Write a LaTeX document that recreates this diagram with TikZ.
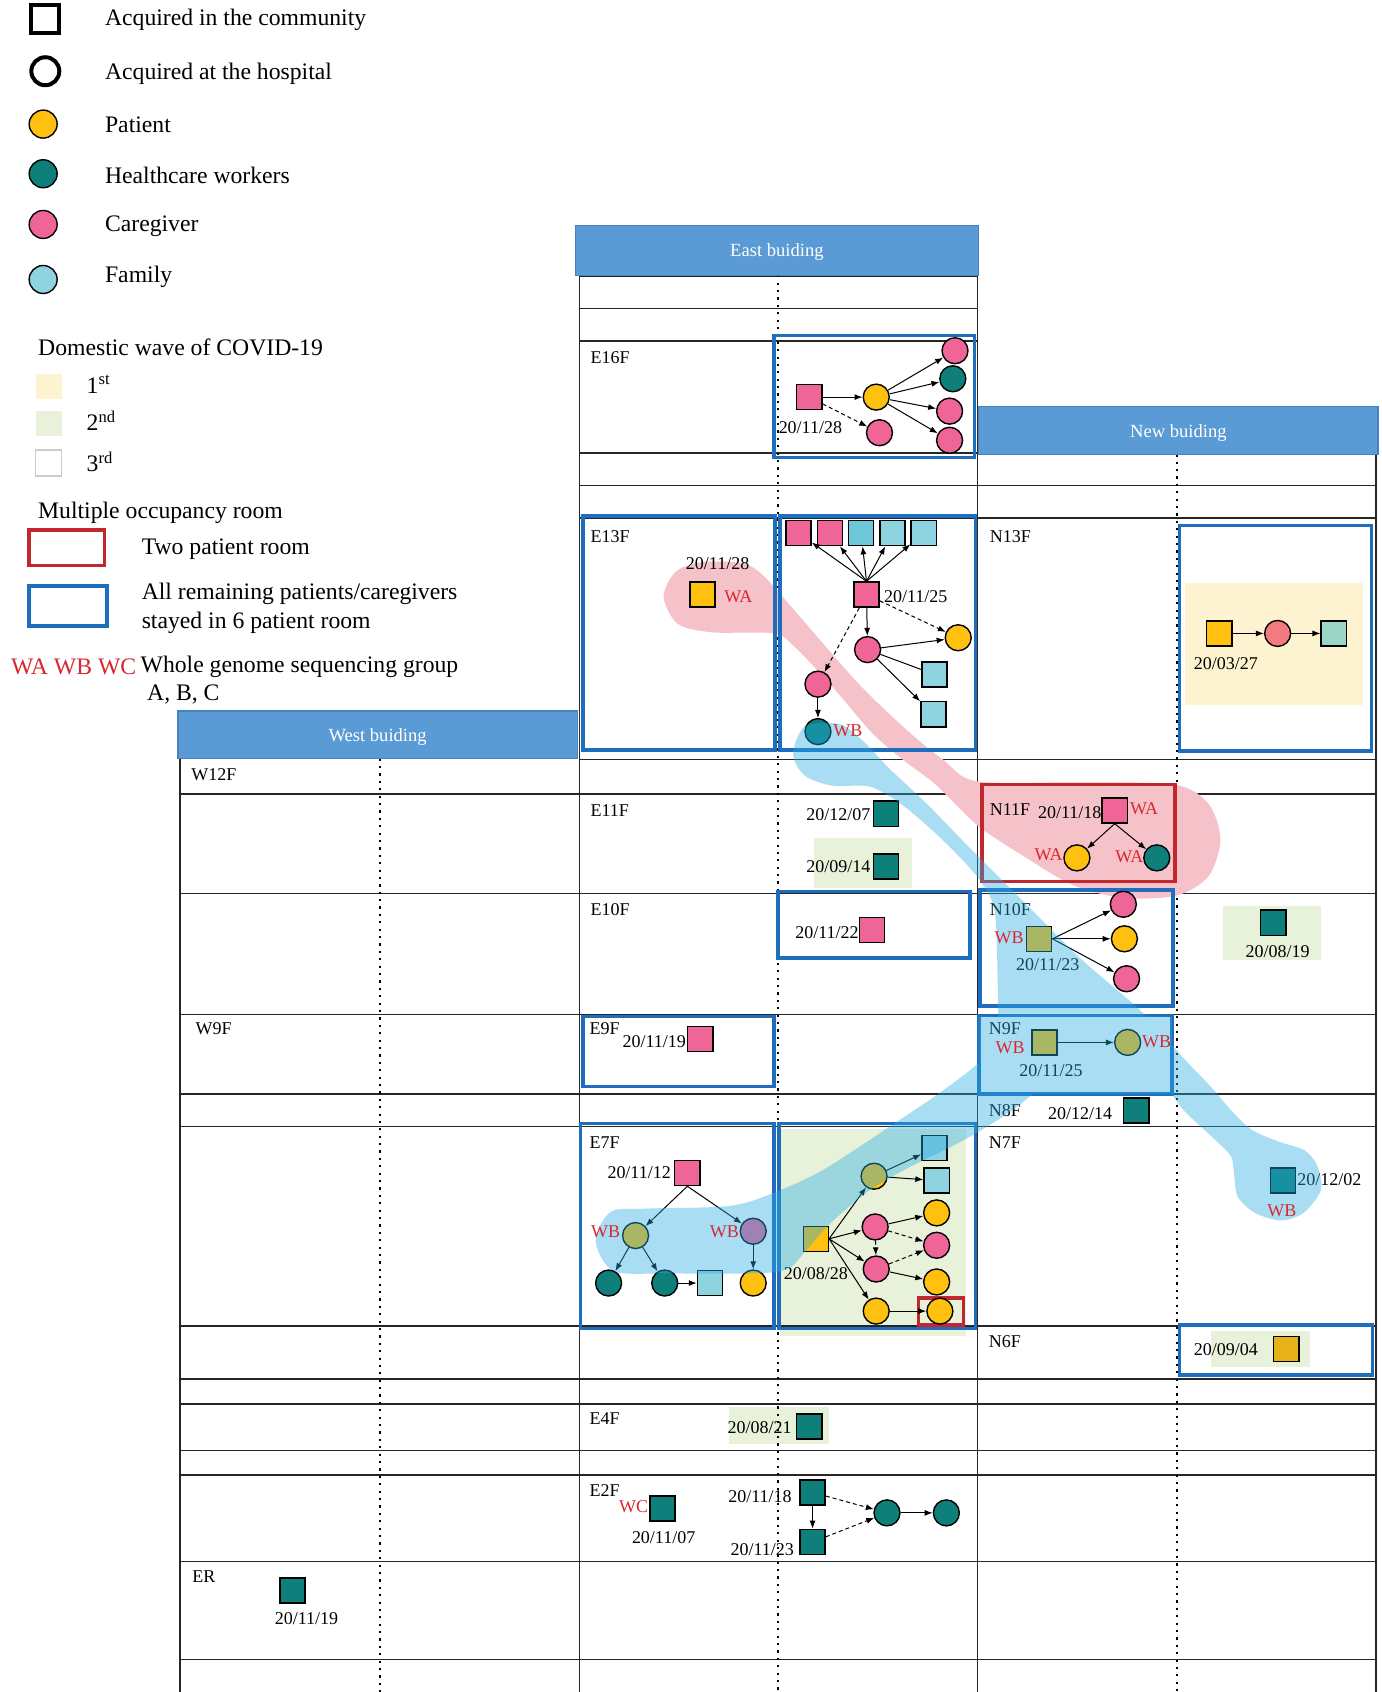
\documentclass[tikz,border=0pt]{standalone}
\usepackage{fontspec}
\setmainfont{Liberation Serif}
\usetikzlibrary{arrows.meta}
\definecolor{patY}{RGB}{255,192,16}
\definecolor{hcwT}{RGB}{14,127,122}
\definecolor{cgvP}{RGB}{240,101,152}
\definecolor{famB}{RGB}{141,211,224}
\definecolor{famD}{RGB}{110,200,218}
\definecolor{salm}{RGB}{242,123,127}
\definecolor{mint}{RGB}{154,213,197}
\definecolor{waveA}{RGB}{253,243,208}
\definecolor{waveB}{RGB}{232,242,218}
\definecolor{bandB}{RGB}{41,171,226}
\definecolor{bandP}{RGB}{246,194,202}
\definecolor{twoR}{RGB}{193,39,45}
\definecolor{roomB}{RGB}{31,110,190}
\definecolor{hdrB}{RGB}{91,155,213}
\definecolor{hdrE}{RGB}{70,130,190}
\definecolor{grpR}{RGB}{215,40,47}

\begin{document}
\begin{tikzpicture}[x=0.54pt, y=-0.54pt,
    sq/.style={rectangle, draw=black, line width=0.7pt, minimum size=12.6pt, inner sep=0pt},
    ci/.style={circle, draw=black, line width=0.7pt, minimum size=13pt, inner sep=0pt},
    pt/.style={fill=patY}, hw/.style={fill=hcwT}, cg/.style={fill=cgvP}, fm/.style={fill=famB},
    ar/.style={-{Latex[length=4pt,width=3pt]}, line width=0.5pt},
    dar/.style={ar, dash pattern=on 2pt off 1.5pt},
    tx/.style={inner sep=0pt, font=\fontsize{9}{10}\selectfont},
    rl/.style={tx, anchor=west},
    grp/.style={tx, text=grpR},
    lt/.style={inner sep=0pt, anchor=west, font=\fontsize{11.85}{13}\selectfont},
    hdr/.style={draw=hdrE, fill=hdrB, line width=0.6pt, text=white, inner sep=0pt, text depth=0pt,
        font=\fontsize{9.3}{11}\selectfont, minimum width=199.8pt, minimum height=23.8pt},
    room/.style={draw=roomB, line width=1.8pt},
    two/.style={draw=twoR, line width=1.8pt},
    grid/.style={draw=black!85, line width=0.75pt},
    dots/.style={line width=1.1pt, dash pattern=on 1.1pt off 2.6pt}]

    \fill[white] (0,0) rectangle (1280,1568);
    \useasboundingbox (0,0) rectangle (1280,1568);

    % Legend
    \node[sq, line width=2pt, minimum size=14pt] (lgA) at (42,18) {};
    \node[ci, line width=2pt, minimum size=14pt] (lgB) at (42,66) {};
    \node[ci, pt, minimum size=14pt] (lgC) at (40,115) {};
    \node[ci, hw, minimum size=14pt] (lgD) at (40,161) {};
    \node[ci, cg, minimum size=14pt] (lgE) at (40,208) {};
    \node[ci, fm, minimum size=14pt] (lgF) at (40,259) {};
    \node[lt] (ltA) at (97,18.5) {Acquired in the community};
    \node[lt] (ltB) at (97,68.5) {Acquired at the hospital};
    \node[lt] (ltC) at (97,115.5) {Patient};
    \node[lt] (ltD) at (97,162.5) {Healthcare workers};
    \node[lt] (ltE) at (97,209.5) {Caregiver};
    \node[lt] (ltF) at (97,256.5) {Family};
    \node[lt] (ltW) at (35,322) {Domestic wave of COVID-19};
    \fill[waveA] (33,347) rectangle (57,370);
    \fill[waveB] (33,381) rectangle (57,404);
    \draw[black!20, line width=0.8pt] (33,417) rectangle (57,441);
    \node[lt] (ltW1) at (80,356) {1\textsuperscript{st}};
    \node[lt] (ltW2) at (80,390) {2\textsuperscript{nd}};
    \node[lt] (ltW3) at (80,428) {3\textsuperscript{rd}};
    \node[lt] (ltM) at (35,475.5) {Multiple occupancy room};
    \draw[two] (27,491) rectangle (97,524);
    \draw[room] (27,543) rectangle (99,580);
    \node[lt] (ltR) at (131,508.5) {Two patient room};
    \node[lt] (ltS1) at (131,550.5) {All remaining patients/caregivers};
    \node[lt] (ltS2) at (131,577.5) {stayed in 6 patient room};
    \node[lt, text=grpR] (ltG) at (10,618) {WA WB WC};
    \node[lt] (ltG1) at (130,618) {Whole genome sequencing group};
    \node[lt] (ltG2) at (136,644) {A, B, C};

    % Wave backgrounds
    \fill[waveA] (1098,540) rectangle (1263,653);
    \fill[waveB] (754,777) rectangle (845,823);
    \fill[waveB] (1133,840) rectangle (1224,890);
    \fill[waveB] (723,1046) rectangle (895,1238);
    \fill[waveB] (1122,1233) rectangle (1214,1267);
    \fill[waveB] (676,1304) rectangle (768,1338);

    % Floors
    \draw[grid] (537,256) -- (906,256) (537,286) -- (906,286) (537,316) -- (906,316)
        (537,420) -- (906,420) (537,450) -- (1275,450) (537,480) -- (1275,480)
        (537,704) -- (1275,704);
    \draw[grid] (167,736) -- (1275,736) (167,828) -- (1275,828) (167,940) -- (1275,940)
        (167,1014) -- (1275,1014) (167,1044) -- (1275,1044) (167,1229) -- (1275,1229)
        (167,1278) -- (1275,1278) (167,1301) -- (1275,1301) (167,1344) -- (1275,1344)
        (167,1367) -- (1275,1367) (167,1447) -- (1275,1447) (167,1538) -- (1275,1538);
    \draw[grid] (167,703) -- (167,1568) (537,255) -- (537,1568)
        (906,255) -- (906,1568) (1275,421) -- (1275,1568);
    \draw[dots] (352,703) -- (352,1568) (721,255) -- (721,1568) (1091,421) -- (1091,1568);

    % Buildings
    \node[hdr, minimum width=201.96pt, minimum height=24.84pt] (east) at (720,232) {East buiding};
    \node[hdr] (new) at (1092,399) {New buiding};
    \node[hdr] (west) at (350,681) {West buiding};

    % Group A
    \fill[bandP] plot[smooth cycle, tension=.5] coordinates {(615,553) (626,530) (650,521)
        (688,522) (708,534) (740,570) (796,634) (842,678) (874,704) (905,724) (1000,725)
        (1088,727) (1120,745) (1131,778) (1120,812) (1090,830) (1040,832) (994,820)
        (948,793) (906,765) (867,727) (838,705) (808,679) (771,636) (737,600) (717,587)
        (660,586) (628,578)};

    % Rooms
    \draw[room] (717,311) rectangle (903,424);
    \draw[room] (540,478) rectangle (718,695);
    \draw[room] (723,478) rectangle (904,695);
    \draw[room] (1093,487) rectangle (1271,696);
    \draw[room] (721,826) rectangle (899,888);
    \draw[room] (908,825) rectangle (1087,932);
    \draw[room] (540,942) rectangle (717,1007);
    \draw[room] (907,941) rectangle (1086,1014);
    \draw[room] (538,1041) rectangle (717,1231);
    \draw[room] (722,1041) rectangle (904,1231);
    \draw[room] (1093,1228) rectangle (1272,1274);
    \draw[two] (910,727) rectangle (1089,817);
    \draw[two] (851,1203) rectangle (893,1228);

    % Floor labels
    \node[rl] (lE16) at (547,331) {E16F};
    \node[rl] (lE13) at (547,497) {E13F};
    \node[rl] (lE11) at (547,751) {E11F};
    \node[rl] (lE10) at (547,843) {E10F};
    \node[rl] (lE9) at (546,953) {E9F};
    \node[rl] (lE7) at (546,1059) {E7F};
    \node[rl] (lE4) at (546,1315) {E4F};
    \node[rl] (lE2) at (546,1381) {E2F};
    \node[rl] (lW12) at (177,718) {W12F};
    \node[rl] (lW9) at (181,953) {W9F};
    \node[rl] (lER) at (178,1461) {ER};
    \node[rl] (lN13) at (917,497) {N13F};
    \node[rl] (lN11) at (917,750) {N11F};
    \node[rl] (lN10) at (917,843) {N10F};
    \node[rl] (lN9) at (916,953) {N9F};
    \node[rl] (lN8) at (916,1029) {N8F};
    \node[rl] (lN7) at (916,1059) {N7F};
    \node[rl] (lN6) at (916,1243) {N6F};

    % E16F
    \node[sq, cg] (e16s) at (750,368) {};
    \node[ci, pt] (e16p) at (812,368) {};
    \node[ci, cg] (e16a) at (885,325) {};
    \node[ci, hw] (e16b) at (883,351) {};
    \node[ci, cg] (e16c) at (880,381) {};
    \node[ci, cg] (e16d) at (880,408) {};
    \node[ci, cg] (e16e) at (815,401) {};
    \node[tx] (t16) at (751,396) {20/11/28};
    \draw[ar] (e16s) -- (e16p);
    \draw[dar] (e16s) -- (e16e);
    \draw[ar] (e16p) -- (e16a);
    \draw[ar] (e16p) -- (e16b);
    \draw[ar] (e16p) -- (e16c);
    \draw[ar] (e16p) -- (e16d);

    % E13F
    \node[sq, pt] (e13w) at (651,551) {};
    \node[tx] (t13a) at (665,522) {20/11/28};
    \node[sq, cg] (e13t1) at (740,494) {};
    \node[sq, cg] (e13t2) at (769,494) {};
    \node[sq, fill=famD] (e13t3) at (798,494) {};
    \node[sq, fm] (e13t4) at (827,494) {};
    \node[sq, fm] (e13t5) at (856,494) {};
    \node[sq, cg] (e13s) at (803,551) {};
    \node[tx, anchor=west] (t13b) at (819,553) {20/11/25};
    \node[ci, cg] (e13p1) at (804,602) {};
    \node[ci, pt] (e13y) at (888,591) {};
    \node[sq, fm] (e13f1) at (866,625) {};
    \node[sq, fm] (e13f2) at (865,662) {};
    \node[ci, cg] (e13p2) at (758,634) {};
    \node[ci, hw] (e13h) at (758,678) {};
    \draw[ar] (e13s.north) -- (e13t1);
    \draw[ar] (e13s.north) -- (e13t2);
    \draw[ar] (e13s.north) -- (e13t3);
    \draw[ar] (e13s.north) -- (e13t4);
    \draw[ar] (e13s.north) -- (e13t5);
    \draw[ar] (e13s) -- (e13p1);
    \draw[dar] (e13s) -- (e13y);
    \draw[dar] (e13s) -- (e13p2);
    \draw[ar] (e13p1) -- (e13y);
    \draw[line width=0.5pt] (e13p1) -- (e13f1);
    \draw[ar] (e13p1) -- (e13f2);
    \draw[ar] (e13p2) -- (e13h);

    % N13F
    \node[sq, pt] (n13y) at (1130,587) {};
    \node[ci, fill=salm] (n13c) at (1184,587) {};
    \node[sq, fill=mint] (n13m) at (1236,587) {};
    \node[tx] (t13n) at (1136,615) {20/03/27};
    \draw[ar] (n13y) -- (n13c);
    \draw[ar] (n13c) -- (n13m);

    % E11F, E10F, E9F
    \node[sq, hw] (e11a) at (821,754) {};
    \node[sq, hw] (e11b) at (821,803) {};
    \node[tx, anchor=east] (t11a) at (807,755) {20/12/07};
    \node[tx, anchor=east] (t11b) at (807,803) {20/09/14};
    \node[sq, cg] (e10s) at (808,862) {};
    \node[tx, anchor=east] (t10) at (796,864) {20/11/22};
    \node[sq, cg] (e9s) at (649,963) {};
    \node[tx, anchor=east] (t9) at (636,965) {20/11/19};

    % N11F
    \node[sq, cg] (n11s) at (1033,751) {};
    \node[ci, pt] (n11y) at (998,795) {};
    \node[ci, hw] (n11h) at (1072,795) {};
    \node[tx, anchor=east] (t11n) at (1021,753) {20/11/18};
    \draw[ar] (n11s.south) -- (n11y);
    \draw[ar] (n11s.south) -- (n11h);

    % N10F
    \node[sq, pt] (n10s) at (963,870) {};
    \node[ci, cg] (n10a) at (1041,838) {};
    \node[ci, pt] (n10b) at (1042,870) {};
    \node[ci, cg] (n10c) at (1044,907) {};
    \node[tx] (t10n) at (971,894) {20/11/23};
    \draw[ar] (n10s.east) -- (n10a);
    \draw[ar] (n10s.east) -- (n10b);
    \draw[ar] (n10s.east) -- (n10c);
    \node[sq, hw] (n10r) at (1180,855) {};
    \node[tx] (t10r) at (1184,882) {20/08/19};

    % N9F, N8F, N7F, N6F
    \node[sq, pt] (n9s) at (968,966) {};
    \node[ci, pt] (n9c) at (1045,966) {};
    \node[tx] (t9n) at (974,992) {20/11/25};
    \draw[ar] (n9s) -- (n9c);
    \node[sq, hw] (n8s) at (1053,1029) {};
    \node[tx] (t8n) at (1001,1032) {20/12/14};
    \node[sq, hw] (n7s) at (1189,1094) {};
    \node[tx, anchor=west] (t7n) at (1202,1093) {20/12/02};
    \node[sq, fill=patY!90!black!95] (n6s) at (1192,1250) {};
    \node[tx] (t6n) at (1136,1251) {20/09/04};

    % E7F
    \node[sq, cg] (e7s) at (637,1087) {};
    \node[tx, anchor=east] (t7a) at (622,1087) {20/11/12};
    \node[ci, pt] (e7a) at (589,1145) {};
    \node[ci, cg] (e7b) at (698,1141) {};
    \node[ci, hw] (e7h1) at (564,1189) {};
    \node[ci, hw] (e7h2) at (616,1189) {};
    \node[sq, fm] (e7f) at (658,1189) {};
    \node[ci, pt] (e7y) at (698,1189) {};
    \draw[ar] (e7s.south) -- (e7a);
    \draw[ar] (e7s.south) -- (e7b);
    \draw[ar] (e7a) -- (e7h1);
    \draw[ar] (e7a) -- (e7h2);
    \draw[ar] (e7h2) -- (e7f);
    \draw[ar] (e7b) -- (e7y);
    \node[sq, pt] (e7q) at (756,1148) {};
    \node[tx] (t7b) at (756,1180) {20/08/28};
    \node[ci, pt] (e7c) at (810,1090) {};
    \node[sq, fm] (e7f1) at (866,1064) {};
    \node[sq, fm] (e7f2) at (868,1094) {};
    \node[ci, cg] (e7p1) at (811,1137) {};
    \node[ci, cg] (e7p2) at (812,1176) {};
    \node[ci, pt] (e7y1) at (812,1215) {};
    \node[ci, pt] (e7r1) at (868,1124) {};
    \node[ci, cg] (e7r2) at (868,1154) {};
    \node[ci, pt] (e7r3) at (868,1188) {};
    \node[ci, pt] (e7r4) at (871,1215) {};
    \draw[ar] (e7q.east) -- (e7c);
    \draw[ar] (e7q.east) -- (e7p1);
    \draw[ar] (e7q.east) -- (e7p2);
    \draw[ar] (e7q.east) -- (e7y1);
    \draw[ar] (e7c) -- (e7f1);
    \draw[ar] (e7c) -- (e7f2);
    \draw[ar] (e7p1) -- (e7r1);
    \draw[dar] (e7p1) -- (e7r2);
    \draw[dar] (e7p1) -- (e7p2);
    \draw[dar] (e7p2) -- (e7r2);
    \draw[ar] (e7p2) -- (e7r3);
    \draw[ar] (e7y1) -- (e7r4);

    % E4F, E2F, ER
    \node[sq, hw] (e4s) at (750,1322) {};
    \node[tx, anchor=east] (t4) at (734,1323) {20/08/21};
    \node[sq, hw] (e2c) at (614,1398) {};
    \node[tx] (t2c) at (615,1425) {20/11/07};
    \node[sq, hw] (e2a) at (753,1383) {};
    \node[sq, hw] (e2b) at (753,1429) {};
    \node[tx, anchor=east] (t2a) at (734,1387) {20/11/18};
    \node[tx, anchor=east] (t2b) at (736,1436) {20/11/23};
    \node[ci, hw] (e2h1) at (822,1402) {};
    \node[ci, hw] (e2h2) at (877,1402) {};
    \draw[dar] (e2a) -- (e2h1);
    \draw[dar] (e2b) -- (e2h1);
    \draw[ar] (e2a) -- (e2b);
    \draw[ar] (e2h1) -- (e2h2);
    \node[sq, hw] (ers) at (271,1474) {};
    \node[tx] (tER) at (284,1500) {20/11/19};

    % Group B
    \fill[bandB, opacity=.4] plot[smooth, tension=.5] coordinates {(925,942) (925,933)
        (923,856) (918,832) (902,808) (870,775) (835,745) (806,729) (771,728) (746,719)
        (735,699) (746,673) (778,671) (799,686) (824,712) (860,746) (895,782) (931,818)
        (966,853) (1001,888) (1051,931) (1062,942)} -- (1086,942) -- (1086,968)
        -- plot[smooth, tension=.5] coordinates {(1086,968) (1098,982) (1122,1007)
        (1141,1029) (1160,1047) (1185,1058) (1209,1066) (1221,1081) (1224,1103)
        (1208,1124) (1187,1131) (1163,1124) (1147,1109) (1144,1091) (1141,1072)
        (1129,1059) (1116,1047) (1097,1029) (1086,1014)} -- (957,1014)
        -- plot[smooth, tension=.5] coordinates {(957,1014) (938,1029) (910,1047)
        (881,1063) (844,1081) (806,1103) (768,1135) (746,1160) (730,1176) (700,1180)
        (620,1180) (569,1178) (552,1150) (566,1123) (600,1120) (680,1117) (730,1100)
        (763,1084) (796,1063) (829,1041) (862,1019) (891,998) (907,985)} -- (907,942) -- cycle;

    % Sequencing groups
    \node[grp, anchor=west] (g13a) at (671,553) {WA};
    \node[grp, anchor=west] (g13b) at (772,677) {WB};
    \node[grp, anchor=west] (g11a) at (1047,749) {WA};
    \node[grp, anchor=east] (g11b) at (985,792) {WA};
    \node[grp, anchor=east] (g11c) at (1060,794) {WA};
    \node[grp, anchor=east] (g10) at (949,869) {WB};
    \node[grp] (g9a) at (936,971) {WB};
    \node[grp, anchor=west] (g9b) at (1058,965) {WB};
    \node[grp] (g7) at (1188,1122) {WB};
    \node[grp, anchor=east] (g7a) at (575,1141) {WB};
    \node[grp, anchor=east] (g7b) at (685,1141) {WB};
    \node[grp, anchor=east] (g2) at (601,1396) {WC};

\end{tikzpicture}
\end{document}
